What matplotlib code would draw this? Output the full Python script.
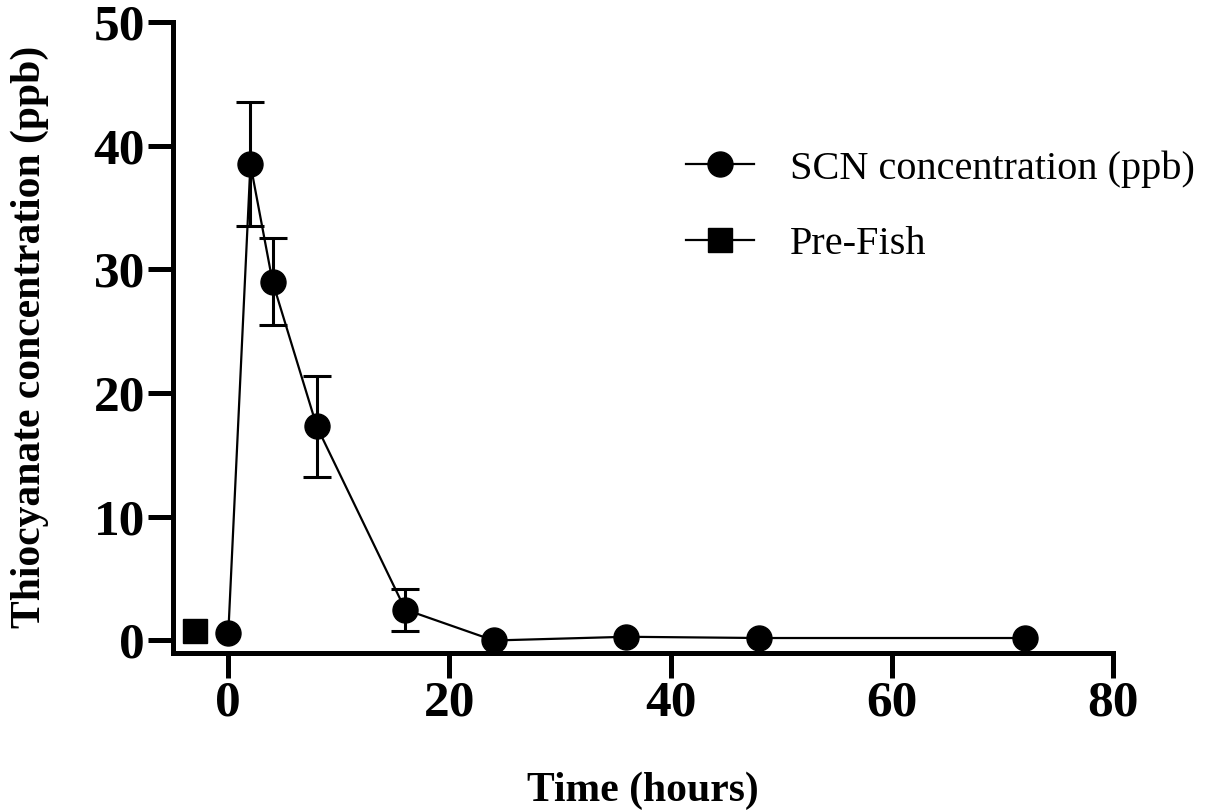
import numpy as np
import matplotlib
matplotlib.use('Agg')
import matplotlib.pyplot as plt

# data
time_h = [0, 2, 4, 8, 16, 24, 36, 48, 72]
scn = [0.6, 38.5, 29.0, 17.3, 2.5, 0.0, 0.3, 0.2, 0.2]
scn_err = [0, 5.0, 3.5, 4.1, 1.7, 0, 0, 0, 0]
pre_time = [-3]
pre_val = [0.8]

xticks = [0, 20, 40, 60, 80]
yticks = [0, 10, 20, 30, 40, 50]

plt.rcParams['font.family'] = ['Liberation Serif', 'DejaVu Serif']

fig = plt.figure(figsize=(12.15, 8.1), dpi=100)
ax = fig.add_axes([0.1424, 0.194, 0.9161 - 0.1424, 0.973 - 0.194])

# error bars only where there is a spread
t_e = [t for t, e in zip(time_h, scn_err) if e > 0]
v_e = [v for v, e in zip(scn, scn_err) if e > 0]
e_e = [e for e in scn_err if e > 0]
ax.errorbar(t_e, v_e, yerr=e_e, fmt='none', ecolor='black', capsize=10,
            capthick=2.2, elinewidth=2.2)
ln1, = ax.plot(time_h, scn, color='black', lw=1.6, marker='o', markersize=18,
               label='SCN concentration (ppb)')
ln2, = ax.plot(pre_time, pre_val, color='black', lw=1.6, marker='s', markersize=17,
               linestyle='-', label='Pre-Fish')

ax.set_xlim(-5, 80)
ax.set_ylim(-1, 50)
ax.set_xticks(xticks)
ax.set_yticks(yticks)
ax.tick_params(labelsize=37, width=3.6, length=18, pad=2)
for lab in ax.get_xticklabels() + ax.get_yticklabels():
    lab.set_fontweight('bold')
for s in ['top', 'right']:
    ax.spines[s].set_visible(False)
for s in ['left', 'bottom']:
    ax.spines[s].set_linewidth(3.6)

ax.set_xlabel('Time (hours)', fontsize=30, fontweight='bold', labelpad=32)
ax.set_ylabel('Thiocyanate concentration (ppb)', fontsize=30, fontweight='bold', labelpad=32)

ax.legend([ln1, ln2], ['SCN concentration (ppb)', 'Pre-Fish'], loc='upper left',
          bbox_to_anchor=(686 / 1215, 1 - 150 / 810), bbox_transform=fig.transFigure,
          frameon=False, fontsize=29, handlelength=1.7, handletextpad=0.87,
          labelspacing=0.95, borderpad=0, borderaxespad=0, markerscale=1.0)

fig.savefig('out.png', dpi=100)
